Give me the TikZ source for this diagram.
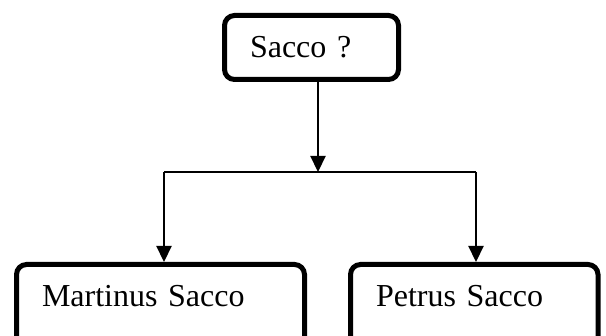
\documentclass[tikz,border=0pt]{standalone}
\usepackage{fontspec}
\setmainfont{Liberation Serif}
\usepackage{tikz}
\usetikzlibrary{arrows.meta}

\begin{document}
\begin{tikzpicture}[
    x=0.5pt, y=-0.5pt,
    block/.style={rectangle, draw, line width=2.5pt, rounded corners=5pt, align=left, font=\fontsize{16}{19}\selectfont, inner xsep=12.75pt},
    leaf/.style={block, anchor=north, inner ysep=0pt, text height=21.25pt, text depth=22.5pt},
    arrow/.style={line width=1.1pt, -{Triangle[width=7.5pt,length=8pt]}},
    line/.style={line width=0.8pt}
]

% Page
\clip (0,0) rectangle (606,336);

% Nodes
\node [block, text width=61.5pt, minimum height=32pt] (sacco) at (311.5,47.5) {Sacco ?};
\node [leaf, text width=118.5pt] (martinus) at (160.5,262) {Martinus Sacco};
\node [leaf, text width=98.25pt] (petrus) at (474.25,262) {Petrus Sacco};

% Branch points
\coordinate (split) at (318,172);
\coordinate (lbend) at (164,172);
\coordinate (rbend) at (476,172);

% Arrows
\draw [arrow] (sacco.south -| split) -- (split);
\draw [line] (lbend) -- (rbend);
\draw [arrow] (lbend) -- (lbend |- martinus.north);
\draw [arrow] (rbend) -- (rbend |- petrus.north);

\end{tikzpicture}
\end{document}
